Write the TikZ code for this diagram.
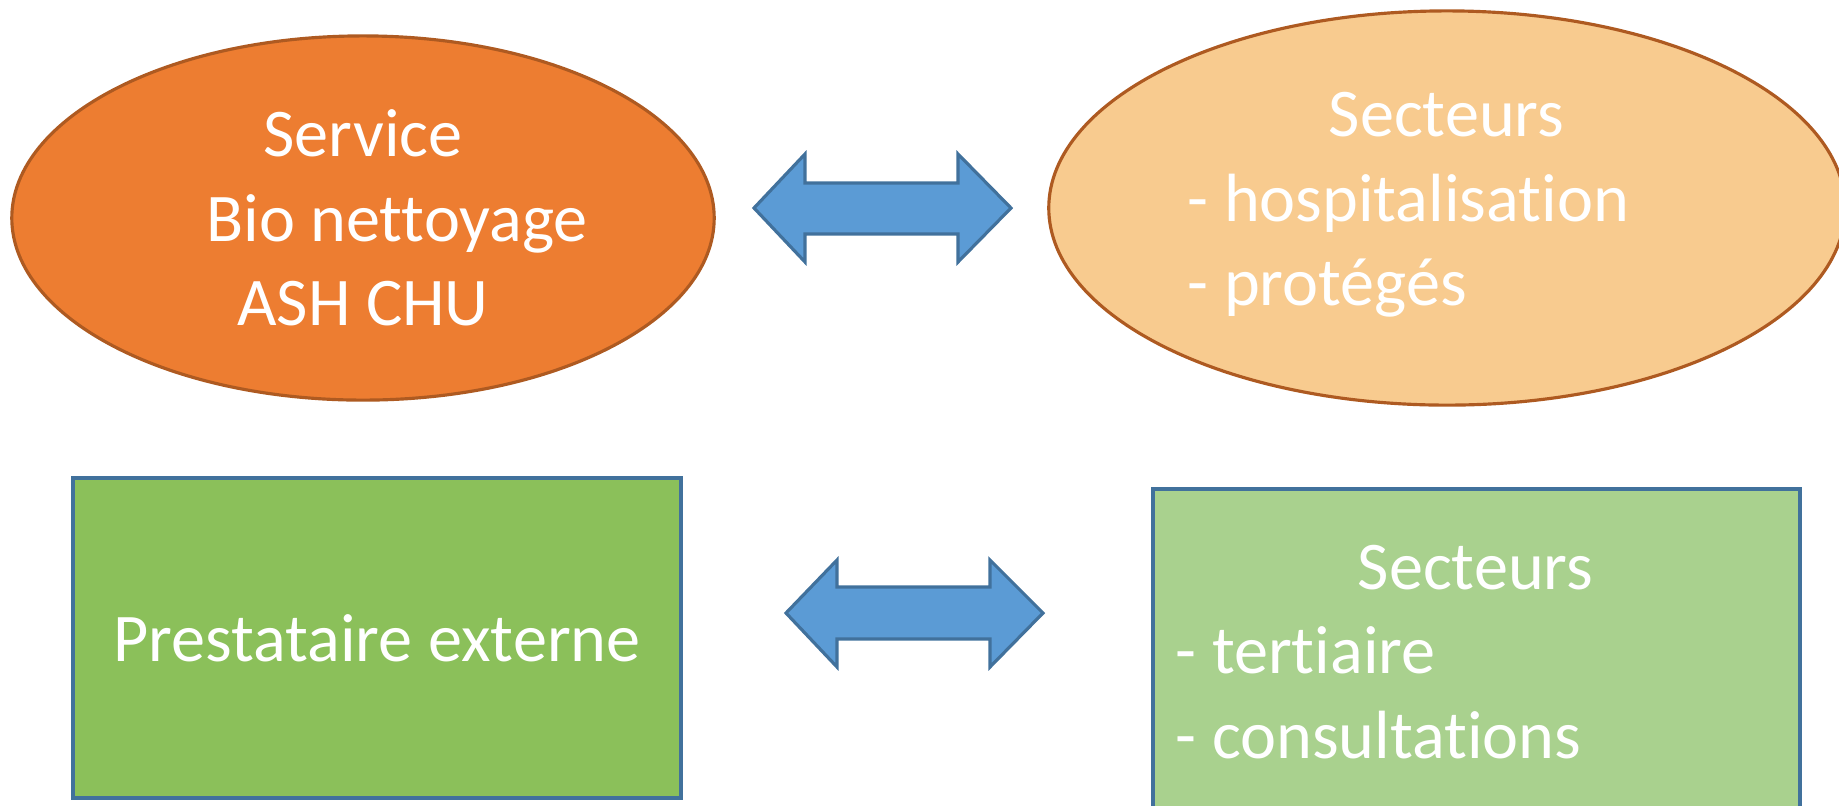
\documentclass[tikz,border=0pt]{standalone}
\usepackage{fontspec}
\setmainfont{Carlito}[Ligatures=NoCommon]
\usetikzlibrary{shapes.geometric}
\definecolor{orangefonce}{HTML}{ED7D31}
\definecolor{orangeclair}{HTML}{F8CB8F}
\definecolor{bordorange}{HTML}{AE5A21}
\definecolor{vertfonce}{HTML}{8BC05A}
\definecolor{vertclair}{HTML}{A9D18E}
\definecolor{bordbleu}{HTML}{41719C}
\definecolor{bleufleche}{HTML}{5B9BD5}
\tikzset{
	texte/.style={text=white,font=\fontsize{19.4}{24}\selectfont,inner sep=0pt},
	bulle/.style={ellipse,draw=bordorange,line width=0.9pt,inner sep=0pt},
	boite/.style={rectangle,draw=bordbleu,line width=1.1pt,inner sep=0pt},
	fleche/.style={draw=bordbleu,fill=bleufleche,line width=0.9pt,line join=miter}
}
\begin{document}
\begin{tikzpicture}[x=0.01cm,y=-0.01cm]
		\useasboundingbox (0,0) rectangle (1839,805);
		\clip (0,0) rectangle (1839,805);
		\node[bulle,fill=orangefonce,minimum width=7.02cm,minimum height=3.64cm,texte,align=center] (service) at (363,218) {Service\\\hspace*{0.68cm}Bio nettoyage\\ASH CHU};
		\node[bulle,fill=orangeclair,minimum width=7.96cm,minimum height=3.94cm] (hospit) at (1447,208) {};
		\node[texte,align=left,anchor=west] (secteurshospit) at (1187,205) {\hspace*{1.41cm}Secteurs\\- hospitalisation\\- protégés};
		\node[boite,fill=vertfonce,minimum width=6.08cm,minimum height=3.2cm,texte] (prestataire) at (377,638) {Prestataire externe};
		\node[boite,fill=vertclair,minimum width=6.47cm,minimum height=4.2cm] (tertiaire) at (1476.5,699) {};
		\node[texte,align=left,anchor=west] (secteurstert) at (1175,652) {\hspace*{1.82cm}Secteurs\\- tertiaire\\- consultations};
		\draw[fleche] (754,208) -- (805,154) -- (805,183) -- (958,183) -- (958,154) -- (1011,208) -- (958,262) -- (958,234) -- (805,234) -- (805,262) -- cycle;
		\draw[fleche] (786,613) -- (837,560) -- (837,587) -- (990,587) -- (990,560) -- (1043,613) -- (990,667) -- (990,639) -- (837,639) -- (837,667) -- cycle;
	    \end{tikzpicture}
\end{document}
